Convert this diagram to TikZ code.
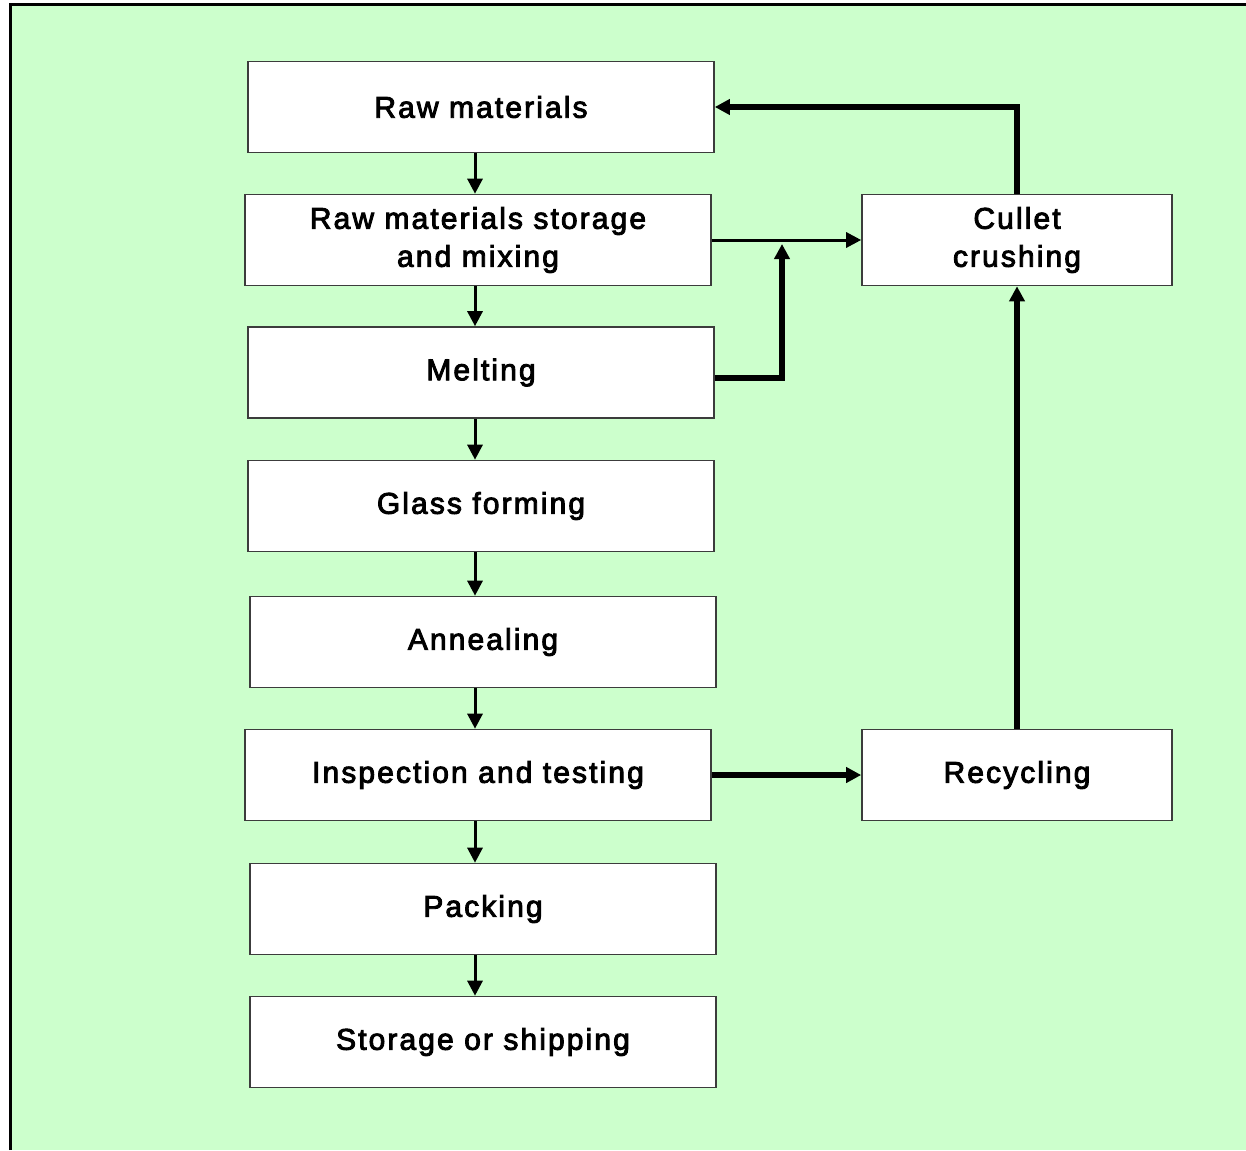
\documentclass[tikz,border=0pt]{standalone}
\usepackage{fontspec}
\setmainfont{Liberation Sans}
\newfontfamily\stagefont{Liberation Sans}[LetterSpace=7, FakeBold=3]
\usepackage{xcolor}
\usepackage{tikz}
\usetikzlibrary{arrows.meta, positioning, calc}
\definecolor{palegreen}{RGB}{204,255,204}
\definecolor{boxline}{RGB}{60,60,60}

\begin{document}
\begin{tikzpicture}[x=0.5pt, y=-0.5pt,
	stage/.style={draw=boxline, line width=0.8pt, fill=white, minimum width=233pt, minimum height=45.5pt, align=center, font=\stagefont\fontsize{15}{19}\selectfont, inner sep=0pt},
	sidestage/.style={stage, minimum width=155pt},
	flow/.style={line width=1.5pt, -{Triangle[length=7.5pt,width=7.5pt]}},
	backflow/.style={line width=3pt, -{Triangle[length=7.5pt,width=7.5pt]}}]
	\useasboundingbox (0,0) rectangle (1246,1150);
	\fill[white] (0,0) rectangle (1246,1150);
	\fill[palegreen] (10,5) rectangle (1246,1150);
	\draw[line width=1.5pt] (10,1150) -- (10,5) -- (1246,5);
	% main line of stages
	\node[stage] (raw) at (481,107) {Raw materials};
	\node[stage] (mix) at (478,240) {Raw materials storage\\and mixing};
	\node[stage] (melt) at (481,372.5) {Melting};
	\node[stage] (form) at (481,506) {Glass forming};
	\node[stage] (anneal) at (483,642) {Annealing};
	\node[stage] (inspect) at (478,775) {Inspection and testing};
	\node[stage] (pack) at (483,909) {Packing};
	\node[stage] (ship) at (483,1042) {Storage or shipping};
	% side stages
	\node[sidestage] (cullet) at (1017,240) {Cullet\\crushing};
	\node[sidestage] (recycle) at (1017,775) {Recycling};
	\coordinate (spine) at (475,0);
	\coordinate (join) at (782,0);
	\foreach \a/\b in {raw/mix, mix/melt, melt/form, form/anneal, anneal/inspect, inspect/pack, pack/ship}
		\draw[flow] (\a.south -| spine) -- (\b.north -| spine);
	\draw[flow] (mix.east) -- (cullet.west);
	\draw[backflow, line width=3pt] (melt.east |- 0,378) -| ($(join |- mix.east)+(0,4)$);
	\draw[backflow] (inspect.east) -- (recycle.west);
	\draw[backflow] (recycle.north) -- (cullet.south);
	\draw[backflow] (cullet.north) |- (raw.east);
\end{tikzpicture}
\end{document}
